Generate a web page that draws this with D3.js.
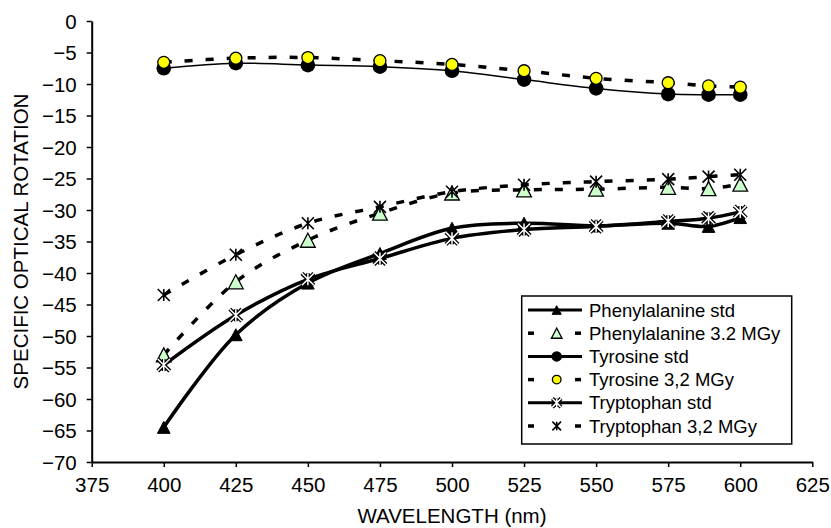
<!DOCTYPE html>
<html>
<head>
<meta charset="utf-8">
<script src="https://cdn.jsdelivr.net/npm/d3@7"></script>
<style>
  html, body { margin: 0; padding: 0; background: #fff; }
  svg { display: block; font-family: "Liberation Sans", Arial, sans-serif; }
</style>
</head>
<body>
<svg id="chart" width="831" height="528"></svg>
<script>
// ---- data ----
const wavelengths = [400, 425, 450, 475, 500, 525, 550, 575, 589, 600];
const pheStd  = [-64.5, -49.8, -41.6, -36.9, -32.9, -32.1, -32.5, -32.1, -32.6, -31.2];
const phe32   = [-53.0, -41.4, -34.8, -30.5, -27.3, -26.8, -26.7, -26.4, -26.6, -25.9];
const tyrStd  = [-7.5, -6.7, -7.0, -7.25, -7.9, -9.3, -10.7, -11.6, -11.7, -11.7];
const tyr32   = [-6.56, -5.9, -5.8, -6.3, -6.9, -7.9, -9.1, -9.8, -10.3, -10.5];
const trpStd  = [-54.6, -46.7, -41.0, -37.7, -34.5, -33.1, -32.6, -31.8, -31.3, -30.3];
const trp32   = [-43.5, -37.1, -32.1, -29.5, -27.1, -26.0, -25.5, -25.1, -24.7, -24.4];
const seriesNames = ["Phenylalanine std", "Phenylalanine 3.2 MGy", "Tyrosine std",
                     "Tyrosine 3,2 MGy", "Tryptophan std", "Tryptophan 3,2 MGy"];
const xTicks = [375, 400, 425, 450, 475, 500, 525, 550, 575, 600, 625];
const yTicks = [0, -5, -10, -15, -20, -25, -30, -35, -40, -45, -50, -55, -60, -65, -70];
const xTitle = "WAVELENGTH (nm)";
const yTitle = "SPECIFIC OPTICAL ROTATION";

// ---- styles per series ----
const styles = [
  { values: pheStd, dash: null, width: 3.5, marker: "triFill" },
  { values: phe32,  dash: "8,13", width: 3.5, marker: "triGreen" },
  { values: tyrStd, dash: null, width: 1.5, marker: "circleBlack" },
  { values: tyr32,  dash: "8,13", width: 3.5, marker: "circleYellow" },
  { values: trpStd, dash: null, width: 3.5, marker: "starWhite" },
  { values: trp32,  dash: "8,13", width: 3.5, marker: "starBlack" }
];

const svg = d3.select("#chart");
const x = d3.scaleLinear().domain([375, 625]).range([91.7, 812.3]);
const y = d3.scaleLinear().domain([-70, 0]).range([462, 21]);

// ---- axes ----
const fs = "20.5px";
const gy = svg.append("g").attr("transform", `translate(${x(375)},0)`)
  .call(d3.axisLeft(y).tickValues(yTicks).tickSize(5).tickSizeOuter(0).tickPadding(10)
        .tickFormat(d => d3.format("d")(d)));
const gx = svg.append("g").attr("transform", `translate(0,${y(-70)})`)
  .call(d3.axisBottom(x).tickValues(xTicks).tickSize(5).tickSizeOuter(0)
        .tickFormat(d3.format("d")));
[gx, gy].forEach(g => {
  g.select(".domain").attr("stroke", "#000").attr("stroke-width", 2);
  g.selectAll(".tick line").attr("stroke", "#000").attr("stroke-width", 1.5);
  g.selectAll(".tick text").attr("fill", "#000").style("font-size", fs)
    .style("font-family", '"Liberation Sans", Arial, sans-serif');
});
gx.selectAll(".tick text").attr("y", 29.7).attr("dy", "0");
gy.selectAll(".tick text").attr("dy", "0.36em");

svg.append("text").attr("x", (x(375) + x(625)) / 2).attr("y", 523)
  .attr("text-anchor", "middle").style("font-size", fs).text(xTitle);
svg.append("text")
  .attr("transform", `translate(28,${(y(0) + y(-70)) / 2}) rotate(-90)`)
  .attr("text-anchor", "middle").style("font-size", fs).text(yTitle);

// ---- markers ----
function drawMarker(g, type, cx, cy, s) {
  s = s || 1;
  if (type === "triFill" || type === "triGreen") {
    const h = (type === "triFill" ? 12 : 14) * s;
    const w = h * 1.05;
    const pts = [[cx, cy - h / 2], [cx + w / 2, cy + h / 2], [cx - w / 2, cy + h / 2]];
    g.append("path").attr("d", d3.line()(pts) + "Z")
      .attr("fill", type === "triFill" ? "#000" : "#ccffcc")
      .attr("stroke", "#000").attr("stroke-width", type === "triFill" ? 1 : 1.3)
      .attr("stroke-linejoin", "miter");
  } else if (type === "circleBlack") {
    g.append("circle").attr("cx", cx).attr("cy", cy).attr("r", 7.3 * s).attr("fill", "#000");
  } else if (type === "circleYellow") {
    g.append("circle").attr("cx", cx).attr("cy", cy).attr("r", 6 * s)
      .attr("fill", "#ffff00").attr("stroke", "#000").attr("stroke-width", 1.3);
  } else if (type === "starWhite" || type === "starBlack") {
    const r = 6 * s;
    const d = `M${cx - r},${cy - r}L${cx + r},${cy + r}M${cx - r},${cy + r}L${cx + r},${cy - r}M${cx},${cy - r}L${cx},${cy + r}`;
    if (type === "starWhite") {
      g.append("path").attr("d", d).attr("stroke", "#000").attr("stroke-width", 4).attr("fill", "none");
      g.append("path").attr("d", d).attr("stroke", "#fff").attr("stroke-width", 1.5).attr("fill", "none");
    } else {
      g.append("path").attr("d", d).attr("stroke", "#000").attr("stroke-width", 1.6).attr("fill", "none");
    }
  }
}

// ---- series ----
const line = d3.line().x(d => x(d[0])).y(d => y(d[1])).curve(d3.curveCatmullRom.alpha(0.5));
styles.forEach(st => {
  const pts = wavelengths.map((w, i) => [w, st.values[i]]);
  const g = svg.append("g");
  g.append("path").attr("d", line(pts)).attr("fill", "none")
    .attr("stroke", "#000").attr("stroke-width", st.width)
    .attr("stroke-dasharray", st.dash);
  pts.forEach(p => drawMarker(g, st.marker, x(p[0]), y(p[1]), 1));
});

// ---- legend ----
const lg = svg.append("g");
lg.append("rect").attr("x", 521.7).attr("y", 296).attr("width", 270).attr("height", 148)
  .attr("fill", "#fff").attr("stroke", "#000").attr("stroke-width", 1.5);
seriesNames.forEach((name, i) => {
  const cy = 310 + i * 23.2;
  const st = styles[i];
  if (st.dash) {
    lg.append("line").attr("x1", 528).attr("x2", 534).attr("y1", cy).attr("y2", cy)
      .attr("stroke", "#000").attr("stroke-width", 3.5);
    lg.append("line").attr("x1", 575).attr("x2", 581).attr("y1", cy).attr("y2", cy)
      .attr("stroke", "#000").attr("stroke-width", 3.5);
  } else {
    lg.append("line").attr("x1", 528).attr("x2", 582).attr("y1", cy).attr("y2", cy)
      .attr("stroke", "#000").attr("stroke-width", st.width === 1.5 ? 3 : 3);
  }
  drawMarker(lg, st.marker, 556.7, cy, 0.72);
  lg.append("text").attr("x", 589).attr("y", cy).attr("dy", "0.36em")
    .style("font-size", "18.5px").text(name);
});
</script>
</body>
</html>
